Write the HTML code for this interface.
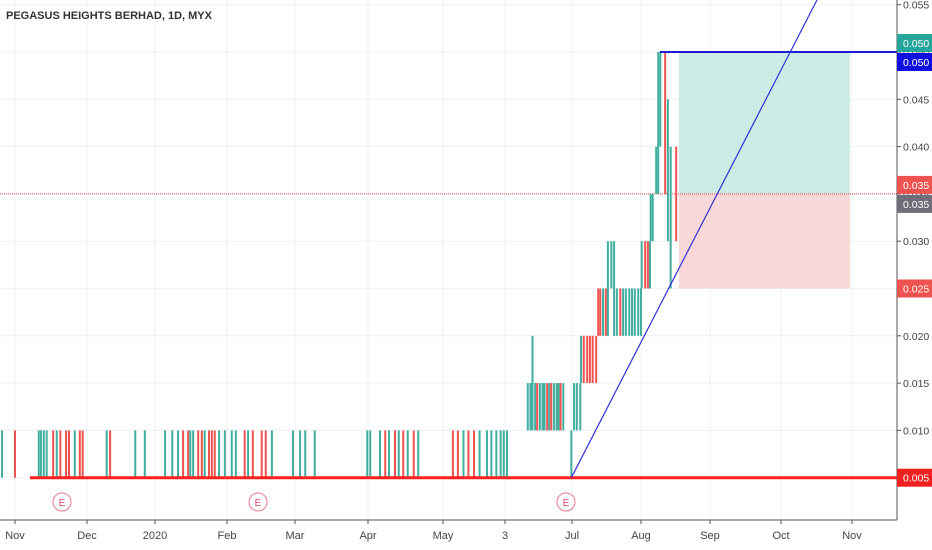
<!DOCTYPE html>
<html><head><meta charset="utf-8"><style>
body{margin:0;background:#fff;width:932px;height:550px;overflow:hidden}
svg{display:block;font-family:"Liberation Sans",sans-serif}
</style></head><body>
<svg id="c" width="932" height="550">
<text x="6" y="19" font-size="11" fill="#333" font-weight="bold">PEGASUS HEIGHTS BERHAD, 1D, MYX</text>
</svg>
<script>
const monthLabels=["Nov","Dec","2020","Feb","Mar","Apr","May","3","Jul","Aug","Sep","Oct","Nov"];
const monthX=[15,87,155,227,295,368,443,505,572,641,710,781,852];
const priceTicks=[0.005,0.010,0.015,0.020,0.025,0.030,0.035,0.040,0.045,0.050,0.055];
// bar time in months since Nov 2019
const barT=[-0.18,0.00,0.33,0.36,0.40,0.44,0.53,0.58,0.63,0.71,0.75,0.83,0.90,0.94,1.29,1.34,1.71,1.85,2.14,2.24,2.32,2.39,2.46,2.49,2.53,2.60,2.65,2.69,2.75,2.79,2.83,2.89,2.97,3.07,3.13,3.26,3.31,3.38,3.51,3.57,3.66,3.97,4.07,4.14,4.27,4.99,5.03,5.16,5.23,5.28,5.36,5.41,5.47,5.53,5.61,5.67,6.16,6.24,6.33,6.41,6.50,6.59,6.71,6.78,6.86,6.93,6.98,7.03,7.34,7.38,7.41,7.45,7.48,7.52,7.56,7.59,7.63,7.66,7.69,7.73,7.77,7.80,7.83,7.87,7.99,8.03,8.07,8.12,8.13,8.17,8.22,8.26,8.30,8.35,8.38,8.41,8.45,8.49,8.52,8.57,8.61,8.65,8.70,8.74,8.78,8.83,8.87,8.91,8.96,9.00,9.01,9.06,9.10,9.13,9.14,9.17,9.22,9.25,9.28,9.35,9.39,9.43,9.51];
const barLow=[0.005,0.005,0.005,0.005,0.005,0.005,0.005,0.005,0.005,0.005,0.005,0.005,0.005,0.005,0.005,0.005,0.005,0.005,0.005,0.005,0.005,0.005,0.005,0.005,0.005,0.005,0.005,0.005,0.005,0.005,0.005,0.005,0.005,0.005,0.005,0.005,0.005,0.005,0.005,0.005,0.005,0.005,0.005,0.005,0.005,0.005,0.005,0.005,0.005,0.005,0.005,0.005,0.005,0.005,0.005,0.005,0.005,0.005,0.005,0.005,0.005,0.005,0.005,0.005,0.005,0.005,0.005,0.005,0.010,0.010,0.010,0.010,0.010,0.010,0.010,0.010,0.010,0.010,0.010,0.010,0.010,0.010,0.010,0.010,0.005,0.010,0.010,0.010,0.015,0.015,0.015,0.015,0.015,0.015,0.020,0.020,0.020,0.020,0.020,0.025,0.020,0.020,0.020,0.020,0.020,0.020,0.020,0.020,0.020,0.020,0.025,0.025,0.025,0.025,0.030,0.030,0.035,0.035,0.040,0.035,0.030,0.025,0.030];
const barHigh=[0.010,0.010,0.010,0.010,0.010,0.010,0.010,0.010,0.010,0.010,0.010,0.010,0.010,0.010,0.010,0.010,0.010,0.010,0.010,0.010,0.010,0.010,0.010,0.010,0.010,0.010,0.010,0.010,0.010,0.010,0.010,0.010,0.010,0.010,0.010,0.010,0.010,0.010,0.010,0.010,0.010,0.010,0.010,0.010,0.010,0.010,0.010,0.010,0.010,0.010,0.010,0.010,0.010,0.010,0.010,0.010,0.010,0.010,0.010,0.010,0.010,0.010,0.010,0.010,0.010,0.010,0.010,0.010,0.015,0.015,0.020,0.015,0.015,0.015,0.015,0.015,0.015,0.015,0.015,0.015,0.015,0.015,0.015,0.015,0.010,0.015,0.015,0.015,0.020,0.020,0.020,0.020,0.020,0.020,0.025,0.025,0.025,0.025,0.030,0.030,0.030,0.025,0.025,0.025,0.025,0.025,0.025,0.025,0.025,0.025,0.030,0.030,0.030,0.030,0.035,0.035,0.040,0.050,0.050,0.050,0.045,0.040,0.040];
const barDir=[1,-1,1,1,1,1,-1,1,-1,-1,-1,1,-1,-1,1,-1,1,1,1,1,1,-1,-1,1,1,-1,-1,1,-1,-1,-1,1,1,1,1,-1,1,-1,-1,-1,1,1,1,1,1,1,1,1,-1,1,-1,1,-1,1,-1,1,-1,-1,1,-1,-1,1,1,1,1,1,1,1,1,1,1,1,-1,1,1,1,-1,1,-1,1,1,1,-1,1,1,1,1,1,1,-1,-1,-1,-1,-1,-1,-1,1,-1,1,1,1,1,-1,1,1,1,1,1,1,1,1,-1,-1,1,1,1,1,1,1,-1,1,1,-1];

const NS="http://www.w3.org/2000/svg";
const svg=document.getElementById('c');
const PR=897;
function yS(p){return 52+(0.05-p)*9460;}
function xS(t){let m=Math.floor(t);let i=Math.max(0,Math.min(monthX.length-2,m));let w=monthX[i+1]-monthX[i];return monthX[i]+(t-i)*w;}
function mk(tag,at,parent){const e=document.createElementNS(NS,tag);for(const k in at)e.setAttribute(k,at[k]);(parent||svg).appendChild(e);return e;}
const title=svg.firstElementChild;
// grid
priceTicks.forEach(p=>{const l=mk('line',{x1:0,x2:PR,y1:yS(p),y2:yS(p),stroke:'#eef1f6'});

});
monthX.forEach(x=>{const l=mk('line',{x1:x,x2:x,y1:0,y2:520,stroke:'#eef1f6'});

});
// position boxes
const g1=mk('rect',{x:679,y:yS(0.05),width:171,height:yS(0.035)-yS(0.05),fill:'#cdebe6'});


const r1=mk('rect',{x:679,y:yS(0.035),width:171,height:yS(0.025)-yS(0.035),fill:'#fbd8d8'});


// dotted price line
const dl=mk('line',{x1:0,x2:PR,y1:yS(0.035),y2:yS(0.035),stroke:'#e04848','stroke-dasharray':'1,1'});


// bars
for(let i=0;i<barT.length;i++){
 const x=xS(barT[i]);
 const b=mk('rect',{x:x-1,y:yS(barHigh[i]),width:2,height:yS(barLow[i])-yS(barHigh[i]),fill:barDir[i]>0?'#3fae9f':'#ef5350'});
 
 
}
// support line
const sl=mk('line',{x1:30,x2:PR,y1:yS(0.005),y2:yS(0.005),stroke:'#ff1f1f','stroke-width':3});


// resistance line
const rl=mk('line',{x1:660,x2:PR,y1:yS(0.05),y2:yS(0.05),stroke:'#1b1bd0','stroke-width':2});


// trend line
const x0=xS(7.99),y0=yS(0.005),x1=xS(11.13),y1=yS(0.05);
const k=(x1-x0)/(y1-y0);const yEnd=0;
const tl=mk('line',{x1:x0,y1:y0,x2:x0+(yEnd-y0)*k,y2:yEnd,stroke:'#3030d8','stroke-width':1.2});


// axes
const ax=mk('line',{x1:0,x2:PR,y1:520,y2:520,stroke:'#555'});


const ay=mk('line',{x1:PR,x2:PR,y1:0,y2:520,stroke:'#555'});


monthLabels.forEach((m,i)=>{
 mk('line',{x1:monthX[i],x2:monthX[i],y1:520,y2:524,stroke:'#555'});
 const t=mk('text',{x:monthX[i],y:539,'font-size':11,fill:'#444','text-anchor':'middle'});t.textContent=m;
 
 
});
priceTicks.forEach(p=>{
 mk('line',{x1:PR,x2:PR+4,y1:yS(p),y2:yS(p),stroke:'#555'});
 const t=mk('text',{x:903,y:yS(p)+4,'font-size':10.5,fill:'#444'});t.textContent=p.toFixed(3);
 
 
});
// badges
[[0.050,'#26a69a',-9],[0.050,'#1010e0',10],[0.035,'#ef5350',-9],[0.035,'#6d6e78',10],[0.025,'#ef5350',0],[0.005,'#ef2020',0]].forEach(b=>{
 const yc=yS(b[0])+b[2];
 const r=mk('rect',{x:PR,y:yc-9,width:35,height:18,fill:b[1]});
 
 
 const t=mk('text',{x:903,y:yc+4,'font-size':10.5,fill:'#fff'});t.textContent=b[0].toFixed(3);
 
 
});
// earnings markers
[62,258,566].forEach(x=>{
 const c=mk('circle',{cx:x,cy:502,r:9,fill:'#fff',stroke:'#e8768a'});
 
 
 const t=mk('text',{x:x,y:506,'font-size':10,fill:'#d44a6a','text-anchor':'middle'});t.textContent='E';
 
 
});
svg.appendChild(title);
</script>
</body></html>
